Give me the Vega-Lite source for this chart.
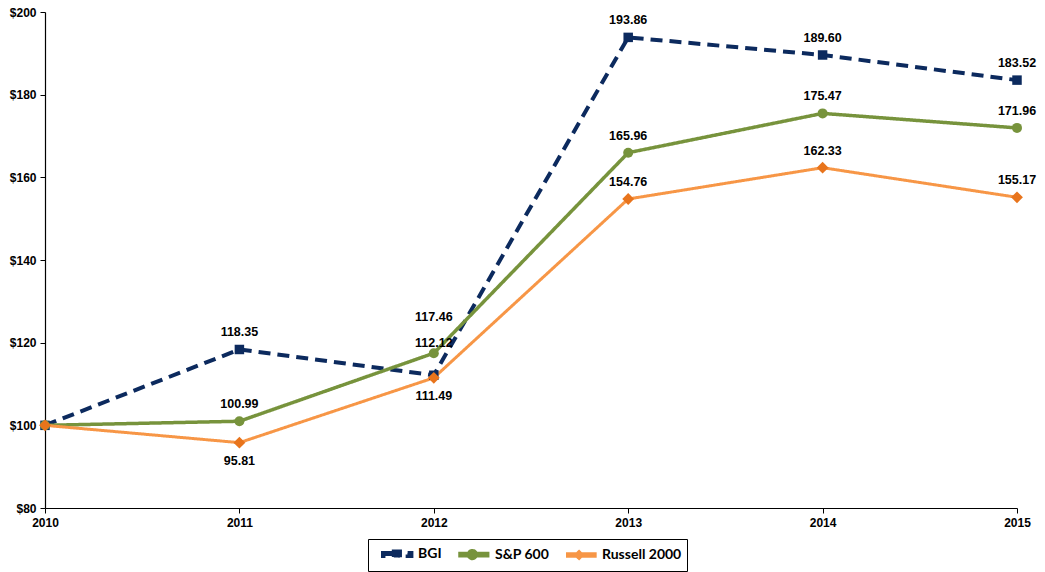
{
  "$schema": "https://vega.github.io/schema/vega-lite/v6.json",
  "width": 972,
  "height": 496,
  "autosize": {"type": "none"},
  "padding": {"left": 45, "top": 12, "right": 28, "bottom": 64},
  "background": "white",
  "config": {
    "view": {"stroke": null},
    "font": "Liberation Sans",
    "axis": {
      "grid": false,
      "domainColor": "black",
      "domainWidth": 1.2,
      "tickColor": "black",
      "tickSize": 5,
      "labelFont": "Liberation Sans",
      "labelFontWeight": "bold",
      "labelFontSize": 12,
      "labelColor": "black",
      "title": null
    }
  },
  "data": {
    "values": [
      {"series": "BGI", "year": 2010, "value": 100},
      {"series": "BGI", "year": 2011, "value": 118.35},
      {"series": "BGI", "year": 2012, "value": 112.12},
      {"series": "BGI", "year": 2013, "value": 193.86},
      {"series": "BGI", "year": 2014, "value": 189.60},
      {"series": "BGI", "year": 2015, "value": 183.52},
      {"series": "S&P 600", "year": 2010, "value": 100},
      {"series": "S&P 600", "year": 2011, "value": 100.99},
      {"series": "S&P 600", "year": 2012, "value": 117.46},
      {"series": "S&P 600", "year": 2013, "value": 165.96},
      {"series": "S&P 600", "year": 2014, "value": 175.47},
      {"series": "S&P 600", "year": 2015, "value": 171.96},
      {"series": "Russell 2000", "year": 2010, "value": 100},
      {"series": "Russell 2000", "year": 2011, "value": 95.81},
      {"series": "Russell 2000", "year": 2012, "value": 111.49},
      {"series": "Russell 2000", "year": 2013, "value": 154.76},
      {"series": "Russell 2000", "year": 2014, "value": 162.33},
      {"series": "Russell 2000", "year": 2015, "value": 155.17}
    ]
  },
  "encoding": {
    "x": {
      "field": "year",
      "type": "quantitative",
      "scale": {"domain": [2010, 2015], "nice": false, "zero": false},
      "axis": {"values": [2010, 2011, 2012, 2013, 2014, 2015], "format": "d", "labelPadding": 4, "labelFlush": false}
    },
    "y": {
      "field": "value",
      "type": "quantitative",
      "scale": {"domain": [80, 200], "nice": false, "zero": false},
      "axis": {"values": [80, 100, 120, 140, 160, 180, 200], "format": "$.0f", "labelPadding": 4}
    }
  },
  "layer": [
    {
      "mark": {"type": "line"},
      "encoding": {
        "color": {
          "field": "series",
          "type": "nominal",
          "sort": ["BGI", "S&P 600", "Russell 2000"],
          "scale": {"domain": ["BGI", "S&P 600", "Russell 2000"], "range": ["#0C2A5E", "#77933C", "#F79646"]},
          "legend": {
            "orient": "none",
            "legendX": 323,
            "legendY": 527,
            "direction": "horizontal",
            "title": null,
            "strokeColor": "black",
            "padding": 5,
            "columnPadding": 8,
            "symbolSize": 256,
            "labelFont": "Lato",
            "labelFontWeight": "bold",
            "labelFontSize": 14,
            "labelColor": "black",
            "labelOffset": 25,
            "encode": {
              "symbols": {
                "update": {
                  "shape": {"signal": "datum.value == 'BGI' ? 'M0,-0.19H1.15V0.19H0Z M1.35,-0.38H2.12V0.38H1.35Z M3.08,-0.19H3.55V0.19H3.08Z' : datum.value == 'S&P 600' ? 'M0,-0.15H3.46V0.15H0Z M2.02,0A0.48,0.48 0 1,1 1.06,0A0.48,0.48 0 1,1 2.02,0Z' : 'M0,-0.15H3.46V0.15H0Z M1.45,-0.43L1.88,0L1.45,0.43L1.02,0Z'"},
                  "fill": {"signal": "datum.value == 'BGI' ? '#0C2A5E' : datum.value == 'S&P 600' ? '#77933C' : '#F29140'"},
                  "size": {"value": 256},
                  "stroke": {"value": "transparent"},
                  "strokeWidth": {"value": 0},
                  "strokeDash": {"value": [1, 0]},
                  "opacity": {"value": 1}
                }
              }
            }
          }
        },
        "strokeDash": {
          "field": "series",
          "type": "nominal",
          "scale": {"domain": ["BGI", "S&P 600", "Russell 2000"], "range": [[12, 7], [1, 0], [1, 0]]},
          "legend": null
        },
        "strokeWidth": {
          "field": "series",
          "type": "nominal",
          "scale": {"domain": ["BGI", "S&P 600", "Russell 2000"], "range": [4, 3, 3]},
          "legend": null
        }
      }
    },
    {
      "transform": [{"filter": "datum.series == 'BGI'"}],
      "mark": {"type": "point", "filled": true, "opacity": 1, "shape": "square", "size": 90, "color": "#0C2A5E"}
    },
    {
      "transform": [{"filter": "datum.series == 'S&P 600'"}],
      "mark": {"type": "point", "filled": true, "opacity": 1, "shape": "circle", "size": 100, "color": "#77933C"}
    },
    {
      "transform": [{"filter": "datum.series == 'Russell 2000'"}],
      "mark": {"type": "point", "filled": true, "opacity": 1, "shape": "diamond", "size": 140, "color": "#E8741C"}
    },
    {
      "transform": [
        {"filter": "datum.year > 2010 && ((datum.series != 'Russell 2000' && datum.year != 2012) || (datum.series == 'Russell 2000' && datum.year >= 2013))"}
      ],
      "mark": {"type": "text", "dy": -17, "fontWeight": "bold", "fontSize": 12.5, "font": "Liberation Sans", "color": "black"},
      "encoding": {"text": {"field": "value", "type": "quantitative", "format": ".2f"}}
    },
    {
      "transform": [
        {"filter": "datum.year == 2012 && datum.series == 'S&P 600'"}
      ],
      "mark": {"type": "text", "dy": -36, "fontWeight": "bold", "fontSize": 12.5, "font": "Liberation Sans", "color": "black"},
      "encoding": {"text": {"field": "value", "type": "quantitative", "format": ".2f"}}
    },
    {
      "transform": [
        {"filter": "datum.year == 2012 && datum.series == 'BGI'"}
      ],
      "mark": {"type": "text", "dy": -32, "fontWeight": "bold", "fontSize": 12.5, "font": "Liberation Sans", "color": "black"},
      "encoding": {"text": {"field": "value", "type": "quantitative", "format": ".2f"}}
    },
    {
      "transform": [
        {"filter": "datum.series == 'Russell 2000' && (datum.year == 2011 || datum.year == 2012)"}
      ],
      "mark": {"type": "text", "dy": 18, "fontWeight": "bold", "fontSize": 12.5, "font": "Liberation Sans", "color": "black"},
      "encoding": {"text": {"field": "value", "type": "quantitative", "format": ".2f"}}
    }
  ]
}
